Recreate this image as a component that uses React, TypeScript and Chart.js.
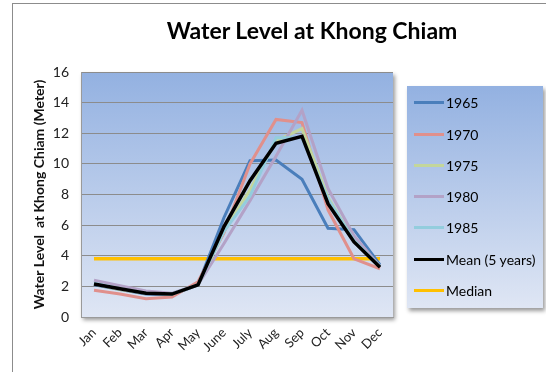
import React, { useEffect, useRef } from 'react';
import { Chart, registerables } from 'chart.js';
Chart.register(...registerables);

const months = ['Jan', 'Feb', 'Mar', 'Apr', 'May', 'June', 'July', 'Aug', 'Sep', 'Oct', 'Nov', 'Dec'];
const y1965 = [2.1, 1.8, 1.5, 1.45, 2.1, 6.5, 10.2, 10.25, 9.0, 5.8, 5.7, 3.4];
const y1970 = [1.75, 1.5, 1.2, 1.3, 2.3, 5.5, 10.0, 12.9, 12.7, 7.0, 3.8, 3.15];
const y1975 = [2.15, 1.8, 1.55, 1.5, 2.1, 5.6, 8.3, 11.5, 12.3, 7.8, 5.0, 3.3];
const y1980 = [2.4, 2.05, 1.7, 1.55, 2.1, 4.8, 7.6, 10.5, 13.5, 8.4, 5.3, 3.3];
const y1985 = [2.2, 1.85, 1.55, 1.5, 2.1, 5.6, 7.9, 11.7, 11.7, 7.7, 5.0, 3.3];
const meanValues = [2.15, 1.85, 1.55, 1.5, 2.1, 5.9, 8.9, 11.35, 11.8, 7.4, 4.9, 3.25];
const medianValues = [3.8, 3.8, 3.8, 3.8, 3.8, 3.8, 3.8, 3.8, 3.8, 3.8, 3.8, 3.8];

const seriesNames = ['1965', '1970', '1975', '1980', '1985', 'Mean (5 years)', 'Median'];
const seriesColors = ['#4a7ebb', '#e0908c', '#c3d69b', '#b3a2c7', '#93cddd', '#000000', '#ffc000'];
const seriesData = [y1965, y1970, y1975, y1980, y1985, meanValues, medianValues];
const seriesWidths = [3, 3, 3, 3, 3, 3.5, 3.5];
const seriesOrder = [5, 4, 3, 2, 1, 0, 6];

const FONT = 'Lato, "Open Sans", sans-serif';

const plotBg = {
  id: 'plotBg',
  beforeDraw(chart: any) {
    const { ctx, chartArea: a } = chart;
    ctx.save();
    ctx.shadowColor = 'rgba(0,0,0,0.4)';
    ctx.shadowBlur = 4;
    ctx.shadowOffsetX = 2;
    ctx.shadowOffsetY = 3;
    const g = ctx.createLinearGradient(0, a.top, 0, a.bottom);
    g.addColorStop(0, '#93b1e1');
    g.addColorStop(1, '#dfe6f4');
    ctx.fillStyle = g;
    ctx.fillRect(a.left, a.top, a.right - a.left, a.bottom - a.top);
    ctx.restore();
  },
};

export default function App() {
  const ref = useRef<HTMLCanvasElement | null>(null);

  useEffect(() => {
    if (!ref.current) return;
    const chart = new Chart(ref.current, {
      type: 'line',
      data: {
        labels: months,
        datasets: seriesNames.map((name, i) => ({
          label: name,
          data: seriesData[i],
          borderColor: seriesColors[i],
          backgroundColor: seriesColors[i],
          borderWidth: seriesWidths[i],
          pointRadius: 0,
          tension: 0,
          order: seriesOrder[i],
        })),
      },
      options: {
        animation: false,
        responsive: false,
        maintainAspectRatio: false,
        layout: { padding: { left: 12, top: 72, right: 153, bottom: 0 } },
        plugins: {
          legend: { display: false },
          tooltip: { enabled: false },
          title: { display: false },
        },
        scales: {
          x: {
            offset: true,
            grid: { display: false, drawTicks: false },
            border: { display: true, color: '#9a9a9a', width: 1 },
            ticks: {
              autoSkip: false,
              minRotation: 45,
              maxRotation: 45,
              padding: 8,
              color: '#222',
              font: { family: FONT, size: 13 },
            },
            afterFit(scale: any) {
              scale.height = 55;
            },
          },
          y: {
            min: 0,
            max: 16,
            ticks: {
              stepSize: 2,
              padding: 12,
              color: '#222',
              font: { family: FONT, size: 14 },
            },
            grid: { color: '#8c8c8c', lineWidth: 1, drawTicks: false },
            border: { display: true, color: '#9a9a9a', width: 1 },
            title: {
              display: true,
              text: 'Water Level  at Khong Chiam (Meter)',
              color: '#111',
              font: { family: FONT, size: 14, weight: 'bold' },
              padding: { top: 19, bottom: 0 },
            },
            afterFit(scale: any) {
              scale.width = 69;
            },
          },
        },
      },
      plugins: [plotBg],
    });
    return () => chart.destroy();
  }, []);

  return (
    <div style={{ position: 'absolute', left: 0, top: 0, width: 546, height: 372, background: '#fff', overflow: 'hidden', fontFamily: FONT }}>
      <div style={{ position: 'absolute', left: 12, top: 3, width: 600, height: 400, borderLeft: '1px solid #8c8c8c', borderTop: '1px solid #8c8c8c' }} />
      <canvas ref={ref} width={546} height={372} style={{ position: 'absolute', left: 0, top: 0 }} />
      <div style={{ position: 'absolute', left: 81, width: 462, top: 16, textAlign: 'center', fontWeight: 'bold', fontSize: 23, lineHeight: '28px', color: '#000' }}>
        Water Level at Khong Chiam
      </div>
      <div style={{ position: 'absolute', left: 407, top: 86, width: 136, height: 222, background: 'linear-gradient(#93b1e1, #dfe6f4)', boxShadow: '2px 3px 4px rgba(0,0,0,0.4)' }}>
        {seriesNames.map((name, i) => (
          <div key={name} style={{ position: 'absolute', left: 7, top: 16.7 + 31.3 * i - 10, height: 20, display: 'flex', alignItems: 'center' }}>
            <div style={{ width: 30, height: 3, background: seriesColors[i] }} />
            <span style={{ marginLeft: 2, fontSize: 14, color: '#000', whiteSpace: 'nowrap' }}>{name}</span>
          </div>
        ))}
      </div>
    </div>
  );
}
